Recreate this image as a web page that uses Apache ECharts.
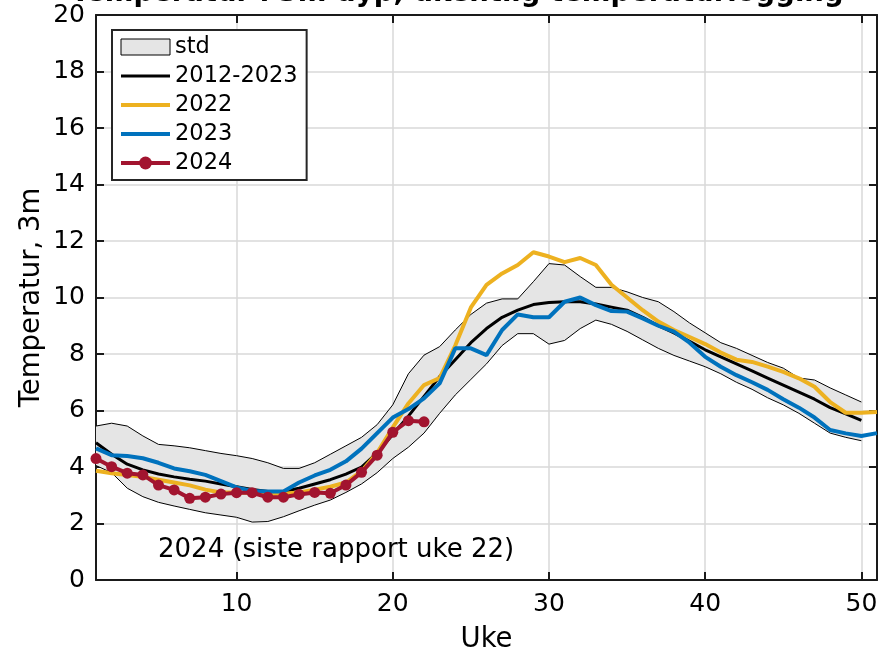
<!DOCTYPE html>
<html><head><meta charset="utf-8">
<script src="https://cdn.jsdelivr.net/npm/echarts@6/dist/echarts.min.js"></script>
<style>html,body{margin:0;padding:0;background:#fff}#c{width:881px;height:654px}</style>
</head><body><div id="c"></div>
<script>
// Weeks (Uke)
const weeks50 = [1,2,3,4,5,6,7,8,9,10,11,12,13,14,15,16,17,18,19,20,21,22,23,24,25,26,27,28,29,30,31,32,33,34,35,36,37,38,39,40,41,42,43,44,45,46,47,48,49,50];
const weeks51 = [1,2,3,4,5,6,7,8,9,10,11,12,13,14,15,16,17,18,19,20,21,22,23,24,25,26,27,28,29,30,31,32,33,34,35,36,37,38,39,40,41,42,43,44,45,46,47,48,49,50,51];
const weeks22 = [1,2,3,4,5,6,7,8,9,10,11,12,13,14,15,16,17,18,19,20,21,22];

// 2012-2023 mean
const mean = [4.86,4.45,4.1,3.9,3.75,3.65,3.57,3.5,3.4,3.3,
  3.2,3.13,3.13,3.25,3.4,3.55,3.75,4.0,4.5,5.15,
  5.8,6.5,7.2,7.8,8.4,8.9,9.3,9.55,9.75,9.82,
  9.85,9.85,9.77,9.66,9.55,9.3,9.0,8.75,8.45,8.15,
  7.9,7.65,7.4,7.15,6.9,6.65,6.4,6.1,5.88,5.65];
// std band upper / lower edges
const stdUpper = [5.45,5.55,5.45,5.1,4.8,4.75,4.68,4.58,4.48,4.4,
  4.3,4.15,3.95,3.95,4.15,4.45,4.75,5.05,5.5,6.2,
  7.3,7.96,8.26,8.85,9.4,9.8,9.95,9.95,10.56,11.2,
  11.15,10.74,10.36,10.36,10.2,10.0,9.85,9.5,9.1,8.75,
  8.4,8.2,7.95,7.7,7.5,7.15,7.08,6.8,6.55,6.3];
const stdLower = [4.05,3.8,3.25,2.95,2.75,2.62,2.5,2.38,2.3,2.22,
  2.05,2.07,2.24,2.45,2.65,2.83,3.1,3.4,3.8,4.3,
  4.7,5.2,5.9,6.55,7.1,7.65,8.3,8.72,8.72,8.35,
  8.48,8.9,9.2,9.05,8.8,8.5,8.2,7.95,7.75,7.55,
  7.3,7.0,6.75,6.45,6.2,5.9,5.55,5.2,5.05,4.93];
// yearly series
const y2022 = [3.87,3.78,3.72,3.65,3.55,3.45,3.35,3.2,3.1,3.1,
  3.08,3.05,3.05,3.1,3.2,3.3,3.45,3.85,4.5,5.4,
  6.25,6.9,7.15,8.3,9.65,10.45,10.85,11.15,11.6,11.45,
  11.25,11.4,11.15,10.45,10.0,9.55,9.15,8.85,8.6,8.35,
  8.05,7.8,7.72,7.55,7.37,7.14,6.84,6.3,5.92,5.92,5.95];
const y2023 = [4.66,4.42,4.39,4.31,4.15,3.95,3.85,3.72,3.5,3.28,
  3.15,3.13,3.13,3.45,3.7,3.9,4.2,4.65,5.2,5.75,
  6.05,6.43,6.96,8.2,8.2,7.96,8.85,9.4,9.3,9.3,
  9.85,10.0,9.73,9.52,9.5,9.26,9.0,8.79,8.4,7.9,
  7.55,7.25,7.0,6.73,6.4,6.1,5.75,5.31,5.19,5.1,5.2];
const y2024 = [4.3,4.01,3.78,3.72,3.36,3.19,2.89,2.93,3.04,3.09,
  3.09,2.93,2.93,3.03,3.1,3.07,3.36,3.81,4.42,5.23,5.64,5.6];

const xTicks = [10,20,30,40,50];
const pairs = (xs, ys) => xs.map((x, i) => [x, ys[i]]);

const FONT = 'DejaVu Sans';
const AX = '#1a1a1a';
const chart = echarts.init(document.getElementById('c'), null, {renderer: 'canvas'});

function renderBand(params, api) {
  if (params.dataIndex !== 0) return null;
  const pts = [];
  for (let i = 0; i < weeks50.length; i++) pts.push(api.coord([weeks50[i], stdUpper[i]]));
  for (let i = weeks50.length - 1; i >= 0; i--) pts.push(api.coord([weeks50[i], stdLower[i]]));
  return {
    type: 'polygon',
    shape: {points: pts},
    style: {fill: '#e5e5e5', stroke: 'none'}
  };
}

const lineLegend = (name, color, width) => ({
  name: name,
  itemStyle: {opacity: 0},
  lineStyle: {color: color, width: width}
});

const option = {
  animation: false,
  backgroundColor: '#fff',
  title: {
    text: 'Temperatur i 3m dyp, ukentlig temperaturlogging',
    left: 66, top: -25,
    textStyle: {fontSize: 27.5, fontWeight: 'bold', fontFamily: FONT, color: '#000'}
  },
  grid: {left: 96, right: 4, top: 15, bottom: 74, containLabel: false, outerBoundsMode: 'none'},
  legend: {
    orient: 'vertical', left: 112, top: 30,
    padding: [5, 9, 5, 7], itemWidth: 49, itemHeight: 16, itemGap: 5,
    backgroundColor: '#fff', borderColor: '#262626', borderWidth: 2,
    textStyle: {fontSize: 22.5, fontFamily: FONT, color: '#000', lineHeight: 24},
    data: [
      {name: 'std', icon: 'rect', itemStyle: {color: '#e5e5e5', borderColor: '#000', borderWidth: 1}},
      lineLegend('2012-2023', '#000', 3),
      lineLegend('2022', '#EDB120', 4),
      lineLegend('2023', '#0072BD', 4),
      {name: '2024', lineStyle: {color: '#A2142F', width: 4}, itemStyle: {color: '#A2142F'}}
    ]
  },
  xAxis: [{
    type: 'value', min: 1, max: 51, position: 'bottom',
    axisLine: {show: true, onZero: false, lineStyle: {color: AX, width: 2}},
    axisTick: {show: true, inside: true, length: 8, lineStyle: {color: AX, width: 2}, customValues: xTicks},
    axisLabel: {customValues: xTicks, fontSize: 25, fontFamily: FONT, color: '#000', margin: 12},
    splitLine: {show: true, lineStyle: {color: '#d9d9d9', width: 1.5}},
    name: 'Uke', nameLocation: 'middle', nameGap: 46, nameMoveOverlap: false,
    nameTextStyle: {fontSize: 27.5, fontFamily: FONT, color: '#000'}
  }, {
    type: 'value', min: 1, max: 51, position: 'top',
    axisLine: {show: true, onZero: false, lineStyle: {color: AX, width: 2}},
    axisTick: {show: true, inside: true, length: 8, lineStyle: {color: AX, width: 2}, customValues: xTicks},
    axisLabel: {show: false}, splitLine: {show: false}
  }],
  yAxis: [{
    type: 'value', min: 0, max: 20, interval: 2, position: 'left',
    axisLine: {show: true, onZero: false, lineStyle: {color: AX, width: 2}},
    axisTick: {show: true, inside: true, length: 8, lineStyle: {color: AX, width: 2}},
    axisLabel: {fontSize: 25, fontFamily: FONT, color: '#000', margin: 11},
    splitLine: {show: true, lineStyle: {color: '#d9d9d9', width: 1.5}},
    name: 'Temperatur, 3m', nameLocation: 'middle', nameGap: 50, nameRotate: 90, nameMoveOverlap: false,
    nameTextStyle: {fontSize: 27.5, fontFamily: FONT, color: '#000'}
  }, {
    type: 'value', min: 0, max: 20, interval: 2, position: 'right',
    axisLine: {show: true, onZero: false, lineStyle: {color: AX, width: 2}},
    axisTick: {show: true, inside: true, length: 8, lineStyle: {color: AX, width: 2}},
    axisLabel: {show: false}, splitLine: {show: false}
  }],
  graphic: [{
    type: 'text', left: 158, top: 537, z: 10,
    style: {text: '2024 (siste rapport uke 22)', fontSize: 26, fontFamily: FONT, fill: '#000'}
  }],
  series: [
    {name: 'std', type: 'custom', renderItem: renderBand,
     data: pairs(weeks50, stdUpper), itemStyle: {color: '#e5e5e5'}, silent: true, z: 1},
    {name: 'stdLowerEdge', type: 'line', data: pairs(weeks50, stdLower),
     symbol: 'none', lineStyle: {color: '#000', width: 1}, silent: true},
    {name: 'stdUpperEdge', type: 'line', data: pairs(weeks50, stdUpper),
     symbol: 'none', lineStyle: {color: '#000', width: 1}, silent: true},
    {name: '2012-2023', type: 'line', data: pairs(weeks50, mean),
     symbol: 'none', itemStyle: {color: '#000'}, lineStyle: {color: '#000', width: 3}},
    {name: '2022', type: 'line', data: pairs(weeks51, y2022),
     symbol: 'none', itemStyle: {color: '#EDB120'}, lineStyle: {color: '#EDB120', width: 4}},
    {name: '2023', type: 'line', data: pairs(weeks51, y2023),
     symbol: 'none', itemStyle: {color: '#0072BD'}, lineStyle: {color: '#0072BD', width: 4}},
    {name: '2024', type: 'line', data: pairs(weeks22, y2024),
     symbol: 'circle', symbolSize: 11, showSymbol: true,
     itemStyle: {color: '#A2142F'}, lineStyle: {color: '#A2142F', width: 4}}
  ]
};
chart.setOption(option);
</script>
</body></html>
